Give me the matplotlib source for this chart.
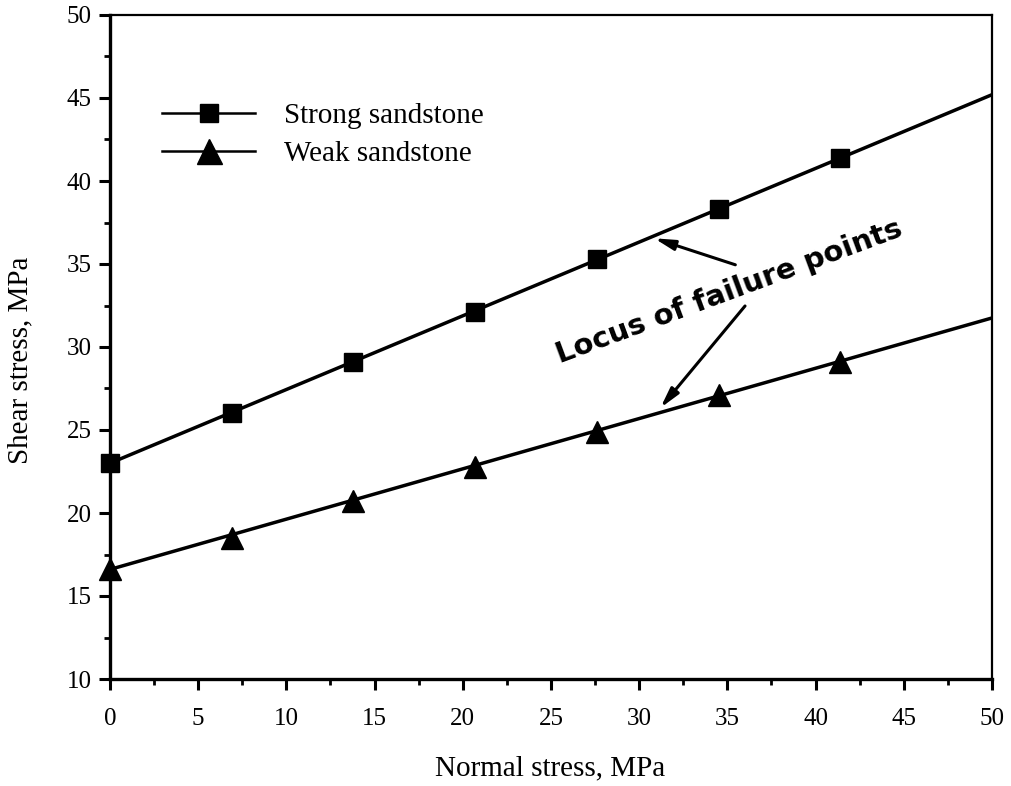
import matplotlib
matplotlib.use("Agg")
import matplotlib.pyplot as plt
from matplotlib.ticker import MultipleLocator
from matplotlib.lines import Line2D

# Data
normal_stress = [0.0, 6.9, 13.8, 20.7, 27.6, 34.5, 41.4]
strong_shear = [23.0, 26.0, 29.1, 32.1, 35.3, 38.3, 41.4]
weak_shear = [16.6, 18.5, 20.7, 22.8, 24.9, 27.1, 29.1]
# Failure-envelope lines (end points)
line_x = [0.0, 50.0]
strong_line = [23.0, 45.2]
weak_line = [16.6, 31.75]

labels = ["Strong sandstone", "Weak sandstone"]
annotation_text = "Locus of failure points"

plt.rcParams['font.family'] = ['Liberation Serif', 'DejaVu Serif']

fig = plt.figure(figsize=(10.12, 7.86), dpi=100)
ax = fig.add_axes([110/1012, 1-679/786, (992-110)/1012, (679-15)/786])

ax.plot(line_x, strong_line, color='black', lw=2.5, zorder=2)
ax.plot(line_x, weak_line, color='black', lw=2.5, zorder=2)
ax.plot(normal_stress, strong_shear, ls='none', marker='s', ms=13, color='black', zorder=3, clip_on=False)
ax.plot(normal_stress, weak_shear, ls='none', marker='^', ms=16, color='black', zorder=3, clip_on=False)

ax.set_xlim(0, 50)
ax.set_ylim(10, 50)
ax.xaxis.set_major_locator(MultipleLocator(5))
ax.xaxis.set_minor_locator(MultipleLocator(2.5))
ax.yaxis.set_major_locator(MultipleLocator(5))
ax.yaxis.set_minor_locator(MultipleLocator(2.5))
ax.tick_params(which='major', direction='out', length=8, width=2.2, labelsize=18, color='black')
ax.tick_params(which='minor', direction='out', length=4.5, width=2.0, color='black')
ax.tick_params(axis='x', which='major', pad=13)
ax.tick_params(axis='y', which='major', pad=5)

ax.spines['left'].set_linewidth(2.4)
ax.spines['bottom'].set_linewidth(2.4)
ax.spines['top'].set_linewidth(1.6)
ax.spines['right'].set_linewidth(1.6)

ax.set_xlabel("Normal stress, MPa", fontsize=21)
ax.set_ylabel("Shear stress, MPa", fontsize=21)
ax.xaxis.set_label_coords(0.499, -0.115)
ax.yaxis.set_label_coords(-0.0873, 0.48)

handles = [
    Line2D([], [], color='black', lw=1.8, marker='s', ms=13),
    Line2D([], [], color='black', lw=1.8, marker='^', ms=18),
]
ax.legend(handles, labels, loc='upper left', bbox_to_anchor=(162/1012, 1-103/786),
          bbox_transform=fig.transFigure,
          frameon=False, fontsize=21, handlelength=3.2, handletextpad=1.0,
          labelspacing=0.38, borderaxespad=0, borderpad=0)

ax.text(35.26, 32.85, annotation_text, rotation=20.4, rotation_mode='anchor',
        ha='center', va='baseline', fontsize=21, fontweight='bold',
        family=['DejaVu Sans'], zorder=5)

arrow_kw = dict(arrowstyle='-|>,head_length=1.2,head_width=0.3', color='black', lw=2.2)
ax.annotate("", xy=(30.7, 36.6), xytext=(35.6, 34.9), arrowprops=arrow_kw)
ax.annotate("", xy=(31.1, 26.2), xytext=(36.1, 32.6), arrowprops=arrow_kw)

fig.savefig("out.png", dpi=100)
